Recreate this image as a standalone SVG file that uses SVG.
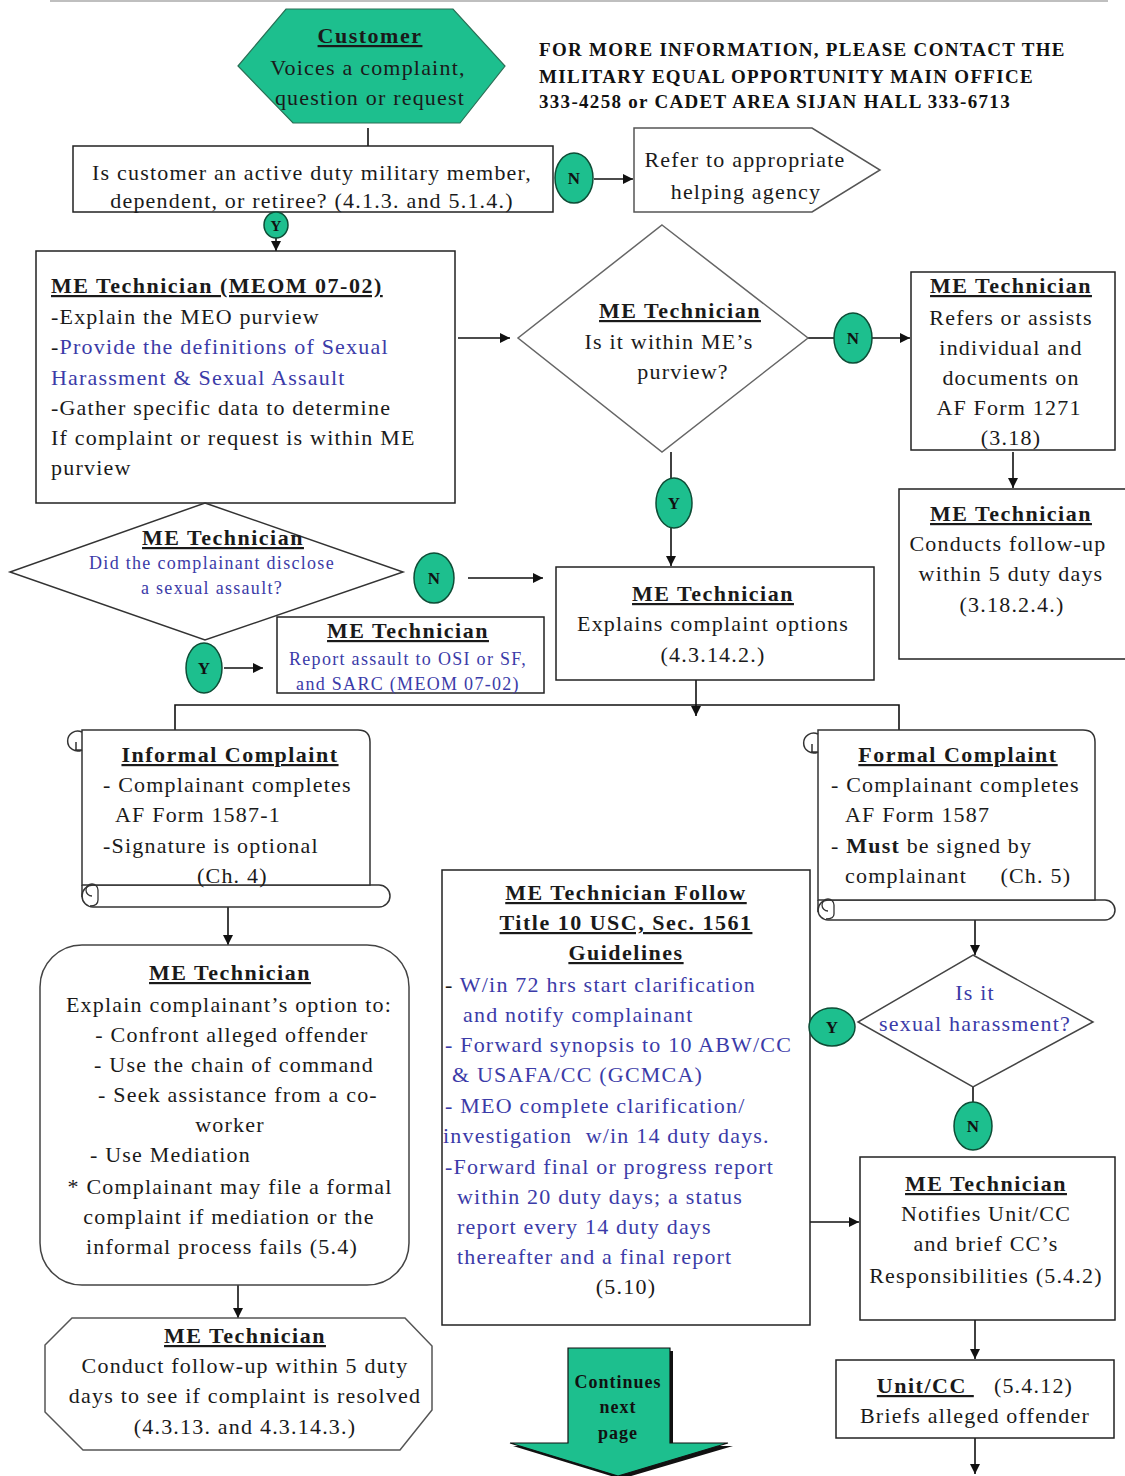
<svg xmlns="http://www.w3.org/2000/svg" width="1125" height="1476" viewBox="0 0 1125 1476">
<defs>
<marker id="ah" viewBox="0 0 10 10" refX="10" refY="5" markerWidth="10" markerHeight="10" markerUnits="userSpaceOnUse" orient="auto"><path d="M0,0 L10,5 L0,10 z" fill="#111"/></marker>
<style>
.t{font-family:"Liberation Serif","Times New Roman",serif;font-size:22px;fill:#1a1a1a;letter-spacing:1.2px}
.c{text-anchor:middle}
.h{font-weight:bold;text-decoration:underline;letter-spacing:1.5px}
.bl{fill:#3b3ba8}
.sm{font-size:18px;letter-spacing:1.3px}
.box{fill:#fff;stroke:#222;stroke-width:1.5}
.gbox{fill:#fff;stroke:#555;stroke-width:1.5}
.yn{fill:#1dbf8e;stroke:#0e4d36;stroke-width:1.5}
.ynt{font-family:"Liberation Serif",serif;font-size:17px;font-weight:bold;fill:#111;text-anchor:middle}
.ln{fill:none;stroke:#111;stroke-width:1.6}
.info{font-family:"Liberation Serif",serif;font-size:19px;font-weight:bold;fill:#111;letter-spacing:1.3px}
.cont{font-family:"Liberation Serif",serif;font-size:18px;font-weight:bold;fill:#111;text-anchor:middle;letter-spacing:1px}
</style>
</defs>
<rect width="1125" height="1476" fill="#fff"/>
<line x1="50" y1="1" x2="1108" y2="1" stroke="#aaa" stroke-width="1.5"/>

<g id="info">
<text class="info" x="539" y="56">FOR MORE INFORMATION, PLEASE CONTACT THE</text>
<text class="info" x="539" y="83">MILITARY EQUAL OPPORTUNITY MAIN OFFICE</text>
<text class="info" x="539" y="108">333-4258 or CADET AREA SIJAN HALL 333-6713</text>
</g>

<g id="connectors">
<line class="ln" x1="368" y1="128" x2="368" y2="146"/>
<line class="ln" x1="594" y1="179" x2="633" y2="179" marker-end="url(#ah)"/>
<line class="ln" x1="276" y1="238" x2="276" y2="251" marker-end="url(#ah)"/>
<line class="ln" x1="458" y1="338" x2="510" y2="338" marker-end="url(#ah)"/>
<line class="ln" x1="808" y1="338" x2="834" y2="338"/>
<line class="ln" x1="872" y1="338" x2="910" y2="338" marker-end="url(#ah)"/>
<line class="ln" x1="1013" y1="452" x2="1013" y2="488" marker-end="url(#ah)"/>
<line class="ln" x1="671" y1="452" x2="671" y2="480"/>
<line class="ln" x1="671" y1="527" x2="671" y2="566" marker-end="url(#ah)"/>
<line class="ln" x1="468" y1="578" x2="543" y2="578" marker-end="url(#ah)"/>
<line class="ln" x1="224" y1="668" x2="263" y2="668" marker-end="url(#ah)"/>
<line class="ln" x1="696" y1="680" x2="696" y2="716" marker-end="url(#ah)"/>
<polyline class="ln" points="175,742 175,705 899,705 899,742"/>
<path d="M170,732 L180,732 L175,742 z M894,732 L904,732 L899,742 z" fill="#111"/>
<line class="ln" x1="228" y1="907" x2="228" y2="945" marker-end="url(#ah)"/>
<line class="ln" x1="238" y1="1285" x2="238" y2="1318" stroke-width="2.4" marker-end="url(#ah)"/>
<line class="ln" x1="975" y1="920" x2="975" y2="955" marker-end="url(#ah)"/>
<line class="ln" x1="973" y1="1087" x2="973" y2="1102"/>
<line class="ln" x1="810" y1="1222" x2="859" y2="1222" marker-end="url(#ah)"/>
<line class="ln" x1="975" y1="1320" x2="975" y2="1359" marker-end="url(#ah)"/>
<line class="ln" x1="975" y1="1438" x2="975" y2="1474" marker-end="url(#ah)"/>
</g>

<g id="customer">
<polygon points="238,66 286,9 453,9 505,66 460,123 293,123" fill="#1dbf8e" stroke="#2a6f55" stroke-width="1.2"/>
<text class="t c h" x="370" y="43">Customer</text>
<text class="t c" x="368" y="75">Voices a complaint,</text>
<text class="t c" x="370" y="105">question or request</text>
</g>

<g id="q-eligible">
<rect class="box" x="73" y="146" width="480" height="66"/>
<text class="t c" x="312" y="180">Is customer an active duty military member,</text>
<text class="t c" x="312" y="208">dependent, or retiree? (4.1.3. and 5.1.4.)</text>
</g>

<g id="n1"><ellipse class="yn" cx="574" cy="178" rx="19" ry="25"/><text class="ynt" x="574" y="184">N</text></g>

<g id="refer">
<polygon class="gbox" points="634,128 812,128 880,170 812,212 634,212"/>
<text class="t c" x="745" y="167">Refer to appropriate</text>
<text class="t c" x="746" y="199">helping agency</text>
</g>

<g id="y1"><ellipse class="yn" cx="276" cy="225" rx="12" ry="13"/><text class="ynt" x="276" y="231" style="font-size:15px">Y</text></g>

<g id="me-meom">
<rect class="box" x="36" y="251" width="419" height="252"/>
<text class="t h" x="51" y="293">ME Technician (MEOM 07-02)</text>
<text class="t" x="51" y="324">-Explain the MEO purview</text>
<text class="t" x="51" y="354">-<tspan class="bl">Provide the definitions of Sexual</tspan></text>
<text class="t bl" x="51" y="385">Harassment &amp; Sexual Assault</text>
<text class="t" x="51" y="415">-Gather specific data to determine</text>
<text class="t" x="51" y="445">If complaint or request is within ME</text>
<text class="t" x="51" y="475">purview</text>
</g>

<g id="d-purview">
<polygon class="gbox" points="662,225 808,338 662,452 518,338" style="stroke:#666"/>
<text class="t c h" x="680" y="318">ME Technician</text>
<text class="t c" x="669" y="349">Is it within ME’s</text>
<text class="t c" x="683" y="379">purview?</text>
</g>

<g id="n2"><ellipse class="yn" cx="853" cy="338" rx="19" ry="25"/><text class="ynt" x="853" y="344">N</text></g>

<g id="me-refers">
<rect class="box" x="911" y="272" width="204" height="178"/>
<text class="t c h" x="1011" y="293">ME Technician</text>
<text class="t c" x="1011" y="325">Refers or assists</text>
<text class="t c" x="1011" y="355">individual and</text>
<text class="t c" x="1011" y="385">documents on</text>
<text class="t c" x="1009" y="415">AF Form 1271</text>
<text class="t c" x="1011" y="445">(3.18)</text>
</g>

<g id="me-followup1">
<rect class="box" x="899" y="489" width="240" height="170"/>
<text class="t c h" x="1011" y="521">ME Technician</text>
<text class="t c" x="1008" y="551">Conducts follow-up</text>
<text class="t c" x="1011" y="581">within 5 duty days</text>
<text class="t c" x="1012" y="612">(3.18.2.4.)</text>
</g>

<g id="y2"><ellipse class="yn" cx="674" cy="503" rx="18" ry="25"/><text class="ynt" x="674" y="509">Y</text></g>

<g id="me-explains">
<rect class="box" x="556" y="567" width="318" height="113"/>
<text class="t c h" x="713" y="601">ME Technician</text>
<text class="t c" x="713" y="631">Explains complaint options</text>
<text class="t c" x="713" y="662">(4.3.14.2.)</text>
</g>

<g id="d-assault">
<polygon class="gbox" points="205,503 403,572 205,640 10,572" style="stroke:#333"/>
<text class="t c h" x="223" y="545">ME Technician</text>
<text class="t c bl sm" x="212" y="569">Did the complainant disclose</text>
<text class="t c bl sm" x="212" y="594">a sexual assault?</text>
</g>

<g id="n3"><ellipse class="yn" cx="434" cy="578" rx="20" ry="25"/><text class="ynt" x="434" y="584">N</text></g>
<g id="y3"><ellipse class="yn" cx="204" cy="668" rx="18" ry="25"/><text class="ynt" x="204" y="674">Y</text></g>

<g id="me-report">
<rect class="box" x="277" y="617" width="267" height="76"/>
<text class="t c h" x="408" y="638">ME Technician</text>
<text class="t c bl sm" x="408" y="665">Report assault to OSI or SF,</text>
<text class="t c bl sm" x="408" y="690">and SARC (MEOM 07-02)</text>
</g>

<g id="informal">
<rect x="82" y="885" width="308" height="22" rx="11" fill="#fff" stroke="#333" stroke-width="1.5"/>
<path d="M82,730 H358 Q370,730 370,742 V885 H82 Z" fill="#fff" stroke="#333" stroke-width="1.5"/>
<line x1="82" y1="885" x2="82" y2="897" stroke="#333" stroke-width="1.5"/>
<path d="M82,750 A10,10 0 1 1 82,732 M82,750 H76 V742" fill="none" stroke="#333" stroke-width="1.5"/>
<path d="M92,896 A6,6 0 1 1 98,890 V900 Q98,906 90,906" fill="none" stroke="#333" stroke-width="1.3"/>
<text class="t c h" x="230" y="762">Informal Complaint</text>
<text class="t" x="103" y="792">- Complainant completes</text>
<text class="t" x="115" y="822">AF Form 1587-1</text>
<text class="t" x="103" y="853">-Signature is optional</text>
<text class="t" x="197" y="883">(Ch. 4)</text>
</g>

<g id="formal">
<rect x="818" y="900" width="297" height="20" rx="10" fill="#fff" stroke="#333" stroke-width="1.5"/>
<path d="M818,730 H1083 Q1095,730 1095,742 V900 H818 Z" fill="#fff" stroke="#333" stroke-width="1.5"/>
<line x1="818" y1="900" x2="818" y2="912" stroke="#333" stroke-width="1.5"/>
<path d="M818,752 A10,10 0 1 1 818,734 M818,752 H812 V744" fill="none" stroke="#333" stroke-width="1.5"/>
<path d="M828,911 A6,6 0 1 1 834,905 V914 Q834,919 826,919" fill="none" stroke="#333" stroke-width="1.3"/>
<text class="t c h" x="958" y="762">Formal Complaint</text>
<text class="t" x="831" y="792">- Complainant completes</text>
<text class="t" x="845" y="822">AF Form 1587</text>
<text class="t" x="831" y="853">- <tspan font-weight="bold">Must</tspan> be signed by</text>
<text class="t" x="845" y="883" xml:space="preserve">complainant     (Ch. 5)</text>
</g>

<g id="title10">
<rect class="box" x="442" y="870" width="368" height="455"/>
<text class="t c h" x="626" y="900">ME Technician Follow</text>
<text class="t c h" x="626" y="930">Title 10 USC, Sec. 1561</text>
<text class="t c h" x="626" y="960">Guidelines</text>
<text class="t" x="445" y="992">- <tspan class="bl">W/in 72 hrs start clarification</tspan></text>
<text class="t bl" x="463" y="1022">and notify complainant</text>
<text class="t bl" x="445" y="1052">- Forward synopsis to 10 ABW/CC</text>
<text class="t bl" x="452" y="1082">&amp; USAFA/CC (GCMCA)</text>
<text class="t bl" x="445" y="1113">- MEO complete clarification/</text>
<text class="t bl" x="443" y="1143" xml:space="preserve">investigation  w/in 14 duty days.</text>
<text class="t bl" x="445" y="1174">-Forward final or progress report</text>
<text class="t bl" x="457" y="1204">within 20 duty days; a status</text>
<text class="t bl" x="457" y="1234">report every 14 duty days</text>
<text class="t bl" x="457" y="1264">thereafter and a final report</text>
<text class="t c" x="626" y="1294">(5.10)</text>
</g>

<g id="d-harass">
<polygon class="gbox" points="973,955 1093,1022 973,1087 858,1022" style="stroke:#444"/>
<text class="t c bl" x="975" y="1000">Is it</text>
<text class="t c bl" x="975" y="1031">sexual harassment?</text>
</g>

<g id="y4"><ellipse class="yn" cx="832" cy="1027" rx="23" ry="19"/><text class="ynt" x="832" y="1033">Y</text></g>
<g id="n4"><ellipse class="yn" cx="973" cy="1126" rx="19" ry="24"/><text class="ynt" x="973" y="1132">N</text></g>

<g id="me-notifies">
<rect class="box" x="860" y="1157" width="255" height="163"/>
<text class="t c h" x="986" y="1191">ME Technician</text>
<text class="t c" x="986" y="1221">Notifies Unit/CC</text>
<text class="t c" x="986" y="1251">and brief CC’s</text>
<text class="t c" x="986" y="1283">Responsibilities (5.4.2)</text>
</g>

<g id="unitcc">
<rect class="box" x="836" y="1360" width="278" height="78"/>
<text class="t c" x="975" y="1393" xml:space="preserve"><tspan class="h">Unit/CC </tspan>   (5.4.12)</text>
<text class="t c" x="975" y="1423">Briefs alleged offender</text>
</g>

<g id="me-options">
<rect class="box" x="40" y="945" width="369" height="340" rx="42" style="stroke:#444"/>
<text class="t c h" x="230" y="980">ME Technician</text>
<text class="t c" x="229" y="1012">Explain complainant’s option to:</text>
<text class="t c" x="232" y="1042">- Confront alleged offender</text>
<text class="t c" x="234" y="1072">- Use the chain of command</text>
<text class="t c" x="238" y="1102">- Seek assistance from a co-</text>
<text class="t c" x="230" y="1132">worker</text>
<text class="t" x="90" y="1162">- Use Mediation</text>
<text class="t c" x="230" y="1194">* Complainant may file a formal</text>
<text class="t c" x="229" y="1224">complaint if mediation or the</text>
<text class="t c" x="222" y="1254">informal process fails  (5.4)</text>
</g>

<g id="me-followup2">
<polygon points="72,1318 405,1318 432,1346 432,1410 400,1450 83,1450 45,1412 45,1345" fill="#fff" stroke="#555" stroke-width="1.5"/>
<text class="t c h" x="245" y="1343">ME Technician</text>
<text class="t c" x="245" y="1373">Conduct follow-up within 5 duty</text>
<text class="t c" x="245" y="1403">days to see if complaint is resolved</text>
<text class="t c" x="245" y="1434">(4.3.13. and 4.3.14.3.)</text>
</g>

<g id="continues">
<polygon points="571,1351 673,1351 673,1446 733,1446 621,1479 513,1446 571,1446" fill="#111"/>
<polygon points="568,1348 670,1348 670,1443 728,1443 618,1476 510,1443 568,1443" fill="#1dbf8e" stroke="#111" stroke-width="1.2"/>
<text class="cont" x="618" y="1388">Continues</text>
<text class="cont" x="618" y="1413">next</text>
<text class="cont" x="618" y="1439">page</text>
</g>
</svg>
